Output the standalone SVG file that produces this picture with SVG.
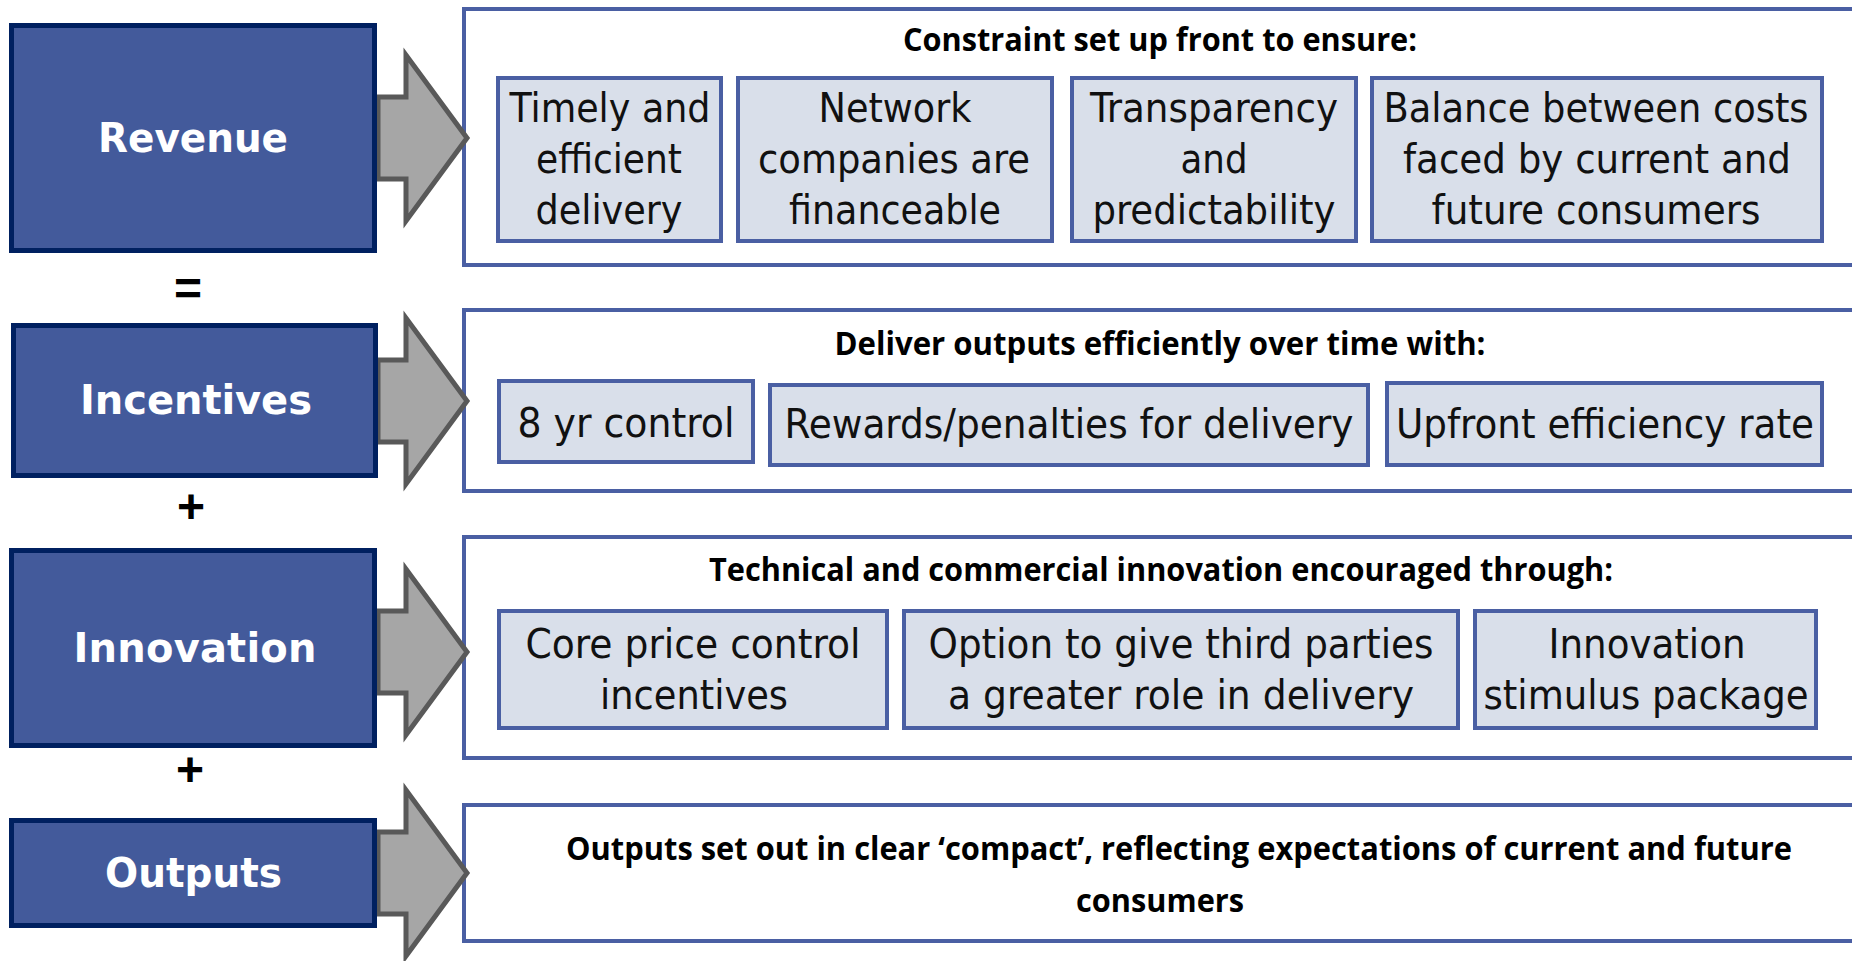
<svg xmlns="http://www.w3.org/2000/svg" width="1852" height="961" viewBox="0 0 1852 961">
  <style>
    .lbl { fill: #435a9b; stroke: #002060; stroke-width: 5; }
    .lbl-t { font-family: "DejaVu Sans", "Liberation Sans", sans-serif; font-weight: bold; font-size: 40px; fill: #ffffff; text-anchor: middle; }
    .panel { fill: #ffffff; stroke: #4a5fa3; stroke-width: 4; }
    .cell { fill: #d9dfea; stroke: #4a5fa3; stroke-width: 4; }
    .cell-t { font-family: "DejaVu Sans Condensed", "DejaVu Sans", sans-serif; font-size: 40px; fill: #111111; text-anchor: middle; }
    .head-t { font-family: "Open Sans", "Liberation Sans", sans-serif; font-weight: bold; font-size: 33px; fill: #000000; text-anchor: middle; }
    .op { font-family: "Liberation Sans", Arial, sans-serif; font-weight: bold; font-size: 48px; fill: #000000; text-anchor: middle; }
    .arrow { fill: #a6a6a6; stroke: #595959; stroke-width: 5; stroke-linejoin: miter; }
  </style>
  <defs>
    <path id="blockArrow" d="M378,-41 L406,-41 L406,-83 L467,0 L406,83 L406,41 L378,41 Z"/>
  </defs>
  <rect width="1852" height="961" fill="#ffffff"/>

  <!-- panels on the right -->
  <g id="panel-revenue">
    <rect class="panel" x="464" y="9" width="1400" height="256"/>
    <text class="head-t" x="1160" y="51" textLength="514" lengthAdjust="spacingAndGlyphs">Constraint set up front to ensure:</text>
    <g id="cell-timely">
      <rect class="cell" x="498" y="78" width="223" height="163"/>
      <text class="cell-t" x="610" y="122" textLength="201" lengthAdjust="spacingAndGlyphs">Timely and</text>
      <text class="cell-t" x="609" y="173" textLength="146" lengthAdjust="spacingAndGlyphs">efficient</text>
      <text class="cell-t" x="609" y="224" textLength="147" lengthAdjust="spacingAndGlyphs">delivery</text>
    </g>
    <g id="cell-financeable">
      <rect class="cell" x="738" y="78" width="314" height="163"/>
      <text class="cell-t" x="895" y="122" textLength="153" lengthAdjust="spacingAndGlyphs">Network</text>
      <text class="cell-t" x="894" y="173" textLength="272" lengthAdjust="spacingAndGlyphs">companies are</text>
      <text class="cell-t" x="895" y="224" textLength="212" lengthAdjust="spacingAndGlyphs">financeable</text>
    </g>
    <g id="cell-transparency">
      <rect class="cell" x="1072" y="78" width="284" height="163"/>
      <text class="cell-t" x="1214" y="122" textLength="248" lengthAdjust="spacingAndGlyphs">Transparency</text>
      <text class="cell-t" x="1214" y="173" textLength="67" lengthAdjust="spacingAndGlyphs">and</text>
      <text class="cell-t" x="1214" y="224" textLength="243" lengthAdjust="spacingAndGlyphs">predictability</text>
    </g>
    <g id="cell-balance">
      <rect class="cell" x="1372" y="78" width="450" height="163"/>
      <text class="cell-t" x="1596" y="122" textLength="425" lengthAdjust="spacingAndGlyphs">Balance between costs</text>
      <text class="cell-t" x="1597" y="173" textLength="388" lengthAdjust="spacingAndGlyphs">faced by current and</text>
      <text class="cell-t" x="1596" y="224" textLength="329" lengthAdjust="spacingAndGlyphs">future consumers</text>
    </g>
  </g>

  <g id="panel-incentives">
    <rect class="panel" x="464" y="310" width="1400" height="181"/>
    <text class="head-t" x="1160" y="355" textLength="651" lengthAdjust="spacingAndGlyphs">Deliver outputs efficiently over time with:</text>
    <g id="cell-control">
      <rect class="cell" x="499" y="381" width="254" height="81"/>
      <text class="cell-t" x="626" y="437" textLength="217" lengthAdjust="spacingAndGlyphs">8 yr control</text>
    </g>
    <g id="cell-rewards">
      <rect class="cell" x="770" y="385" width="598" height="80"/>
      <text class="cell-t" x="1069" y="438" textLength="569" lengthAdjust="spacingAndGlyphs">Rewards/penalties for delivery</text>
    </g>
    <g id="cell-efficiency">
      <rect class="cell" x="1387" y="383" width="435" height="82"/>
      <text class="cell-t" x="1605" y="438" textLength="418" lengthAdjust="spacingAndGlyphs">Upfront efficiency rate</text>
    </g>
  </g>

  <g id="panel-innovation">
    <rect class="panel" x="464" y="537" width="1400" height="221"/>
    <text class="head-t" x="1161" y="581" textLength="904" lengthAdjust="spacingAndGlyphs">Technical and commercial innovation encouraged through:</text>
    <g id="cell-core">
      <rect class="cell" x="499" y="611" width="388" height="117"/>
      <text class="cell-t" x="693" y="658" textLength="335" lengthAdjust="spacingAndGlyphs">Core price control</text>
      <text class="cell-t" x="694" y="709" textLength="188" lengthAdjust="spacingAndGlyphs">incentives</text>
    </g>
    <g id="cell-third-parties">
      <rect class="cell" x="904" y="611" width="554" height="117"/>
      <text class="cell-t" x="1181" y="658" textLength="505" lengthAdjust="spacingAndGlyphs">Option to give third parties</text>
      <text class="cell-t" x="1181" y="709" textLength="466" lengthAdjust="spacingAndGlyphs">a greater role in delivery</text>
    </g>
    <g id="cell-stimulus">
      <rect class="cell" x="1475" y="611" width="341" height="117"/>
      <text class="cell-t" x="1647" y="658" textLength="197" lengthAdjust="spacingAndGlyphs">Innovation</text>
      <text class="cell-t" x="1646" y="709" textLength="325" lengthAdjust="spacingAndGlyphs">stimulus package</text>
    </g>
  </g>

  <g id="panel-outputs">
    <rect class="panel" x="464" y="805" width="1400" height="136"/>
    <text class="head-t" x="1179" y="860" textLength="1226" lengthAdjust="spacingAndGlyphs">Outputs set out in clear ‘compact’, reflecting expectations of current and future</text>
    <text class="head-t" x="1160" y="912" textLength="168" lengthAdjust="spacingAndGlyphs">consumers</text>
  </g>

  <!-- block arrows from each label to its panel -->
  <g id="connectors">
    <use href="#blockArrow" class="arrow" transform="translate(0,138)"/>
    <use href="#blockArrow" class="arrow" transform="translate(0,401)"/>
    <use href="#blockArrow" class="arrow" transform="translate(0,652)"/>
    <use href="#blockArrow" class="arrow" transform="translate(0,873)"/>
  </g>

  <!-- labels on the left -->
  <g id="node-revenue">
    <rect class="lbl" x="11.5" y="25.5" width="363" height="225"/>
    <text class="lbl-t" x="193" y="152" textLength="190" lengthAdjust="spacingAndGlyphs">Revenue</text>
  </g>
  <g id="node-incentives">
    <rect class="lbl" x="13.5" y="325.5" width="362" height="150"/>
    <text class="lbl-t" x="196" y="414" textLength="232" lengthAdjust="spacing">Incentives</text>
  </g>
  <g id="node-innovation">
    <rect class="lbl" x="11.5" y="550.5" width="363" height="195"/>
    <text class="lbl-t" x="195" y="662" textLength="243" lengthAdjust="spacing">Innovation</text>
  </g>
  <g id="node-outputs">
    <rect class="lbl" x="11.5" y="820.5" width="363" height="105"/>
    <text class="lbl-t" x="193.5" y="887" textLength="177" lengthAdjust="spacingAndGlyphs">Outputs</text>
  </g>

  <!-- operators between labels -->
  <g id="operators">
    <text class="op" x="188" y="305">=</text>
    <text class="op" x="191" y="523">+</text>
    <text class="op" x="190" y="786">+</text>
  </g>
</svg>
